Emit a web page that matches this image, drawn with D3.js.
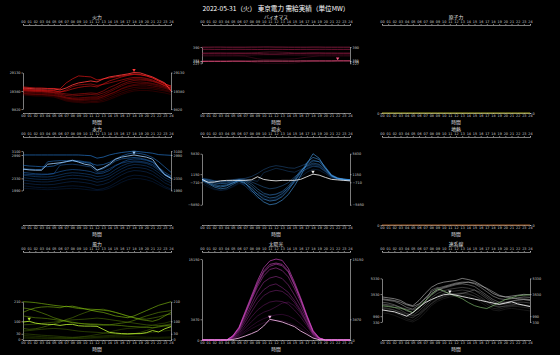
<!DOCTYPE html>
<html>
<head>
<meta charset="utf-8">
<script src="https://cdn.jsdelivr.net/npm/d3@7"></script>
<style>
body { margin: 0; background: #000; }
svg { display: block; font-family: "Noto Sans CJK JP", "Noto Sans", sans-serif; }
</style>
</head>
<body>
<svg width="560" height="355"></svg>
<script>
const title = '2022-05-31（火） 東京電力 需給実績（単位MW）';
const hourTicks = d3.range(25);

// 火力
const fireTicks = [9820, 19380, 29130];
const fireSeries = [
  [17250,16990,16720,16720,16460,16190,15130,14060,13530,13260,13000,13260,13260,13800,14860,16190,17520,18570,19370,19640,19640,19370,18840,18310,17520],
  [17780,17520,17250,17250,16990,16720,15660,14600,14060,13800,13530,13800,13800,14600,15660,16990,18310,19370,20170,20700,20700,20430,19900,19370,18570],
  [18310,18040,17780,17780,17520,17250,16190,15130,14600,14330,14330,14600,14600,15390,16720,18040,19370,20430,21220,21490,21490,21220,20700,19900,19100],
  [18040,17780,17520,17520,17250,16990,16460,15660,15130,15130,15390,15660,15660,16460,17780,19100,20700,22020,22820,23340,23340,22820,22020,21220,19900],
  [18840,18570,18310,18310,18040,17780,16720,15660,15130,14860,14860,15130,15130,16190,17520,18840,20430,21490,22280,22550,22550,22020,21490,20700,19640],
  [19370,19100,18840,18840,18570,18310,17250,16190,15660,15660,15930,16190,16190,17250,18840,20430,22020,23340,23880,24140,23880,23340,22550,21490,20170],
  [19640,19370,19100,19100,18840,18570,17780,16990,16720,16990,17250,17520,17250,18310,19640,21220,22820,24140,24930,25200,24930,24410,23340,22020,20430],
  [19900,19640,19370,19370,19100,18840,18310,17780,17520,17780,18040,18310,18040,19370,21220,22550,24140,25200,25730,25730,25470,24670,23610,22280,20960],
  [20170,19900,19640,19640,19370,19370,18840,19900,21750,22550,22820,23080,22280,22820,23610,24410,25200,26010,26540,26540,26010,25200,23880,22280,20960],
  [20430,20170,19900,19900,19640,19640,18840,19370,20430,21220,21750,22020,21490,23080,24670,25730,26800,27590,28130,27860,27330,26270,24670,23080,21750],
  [21490,21220,20960,20960,20700,20700,20430,23610,25730,27330,27060,26800,25200,25730,26270,26800,27330,27860,28390,28130,27330,26270,24670,23080,22020]
];
const fireToday = [20960,20700,20430,20430,20430,20430,19900,20960,22550,23610,24140,24670,24140,25730,26800,27330,27860,28390,29130,28920,27860,26800,25200,23610,19380];

// バイオマス
const bioTicks = [227, 246, 251, 390];
const bioSeries = [
  [252,252,252,252,252,252,251,248,240,232,228,227,227,227,228,230,238,246,251,252,252,252,252,252,252],
  [300,300,300,300,300,300,300,298,285,272,265,265,266,268,270,272,280,288,295,300,300,300,300,300,300],
  [310,310,310,310,310,310,309,309,310,312,313,313,313,312,311,310,310,310,310,310,311,311,311,311,311],
  [325,325,325,324,324,324,325,326,330,334,338,340,340,338,335,330,326,324,324,324,325,325,325,325,325],
  [330,330,331,331,330,330,330,329,327,325,322,320,320,322,324,326,329,331,332,332,331,331,330,330,330],
  [367,367,366,366,366,367,367,366,366,365,365,366,366,366,365,365,366,366,366,367,367,366,366,366,366],
  [388,388,389,389,388,388,388,388,389,389,390,390,389,389,388,388,388,388,389,389,388,388,388,388,388]
];
const bioToday = [246,247,247,247,247,248,248,248,248,249,249,249,249,249,249,249,250,250,250,250,250,250,251,251,251];

// 原子力
const nuclearTicks = [0];
const nuclearSeries = [];
const nuclearToday = [0,0,0,0,0,0,0,0,0,0,0,0,0,0,0,0,0,0,0,0,0,0,0,0,0];

// 水力
const hydroTicks = [1990, 2330, 2990, 3100];
const hydroSeries = [
  [2050,2040,2030,2020,2010,2020,2030,2040,2050,2040,2020,2000,1990,2000,2050,2130,2220,2290,2330,2320,2290,2240,2150,2060,2000],
  [2120,2100,2080,2070,2060,2070,2090,2110,2120,2110,2090,2060,2010,2040,2100,2200,2300,2380,2420,2410,2380,2320,2220,2100,2030],
  [2200,2180,2160,2150,2150,2160,2190,2220,2240,2230,2210,2180,2130,2160,2220,2330,2430,2510,2550,2540,2510,2440,2330,2200,2120],
  [2280,2260,2240,2230,2230,2250,2280,2310,2330,2320,2300,2270,2220,2250,2310,2420,2520,2600,2640,2630,2600,2530,2410,2280,2200],
  [2350,2330,2310,2300,2300,2320,2360,2400,2420,2410,2390,2360,2300,2330,2390,2500,2600,2680,2720,2710,2680,2610,2490,2350,2260],
  [2420,2400,2380,2370,2370,2390,2430,2470,2490,2480,2460,2430,2380,2400,2460,2580,2680,2750,2790,2780,2750,2680,2560,2420,2320],
  [2450,2440,2430,2430,2440,2460,2700,2720,2730,2710,2680,2650,2500,2520,2600,2700,2760,2800,2820,2810,2780,2720,2600,2440,2350],
  [2500,2480,2460,2450,2450,2470,2520,2560,2580,2570,2550,2520,2460,2480,2550,2680,2780,2850,2880,2870,2840,2780,2650,2500,2400],
  [2600,2590,2580,2580,2800,2820,2830,2830,2840,2830,2800,2780,2560,2600,2700,2820,2880,2900,2920,2900,2860,2800,2620,2450,2360],
  [2700,2680,2670,2660,2660,2680,2750,2800,2820,2800,2780,2750,2700,2720,2780,2880,2960,3020,3050,3030,2990,2920,2800,2650,2500],
  [2990,2990,2990,2990,2990,2990,2990,2990,2990,2990,2980,2970,2900,2930,2990,3030,3060,3080,3100,3080,3060,3040,3000,2990,2980]
];
const hydroToday = [2590,2570,2560,2560,2730,2750,2770,2800,2840,2790,2730,2700,2560,2630,2730,2870,2930,2960,2990,2960,2930,2870,2630,2430,2330];

// 揚水
const pumpTicks = [-5850, -710, 1150, 5830];
const pumpSeries = [
  [-1000,-1800,-2400,-2500,-2300,-1800,-1000,-1200,-2200,-3400,-4200,-4600,-4400,-3600,-2200,-700,900,2200,2900,2700,1600,400,0,-300,-400],
  [-500,-1400,-2200,-2600,-2400,-1600,-800,-1500,-3000,-4300,-4700,-4800,-4600,-3800,-2300,-400,1200,2600,3300,3000,1800,500,0,-200,-300],
  [-200,-500,-900,-1100,-1000,-700,-300,-1600,-2800,-3300,-3500,-3700,-3500,-3000,-2000,-800,500,1600,2300,2100,1300,300,0,-200,-300],
  [100,-100,-300,-400,-300,-100,100,0,-200,-500,1500,2000,2500,2200,1800,1600,2200,2900,3400,3200,2000,700,200,0,-100],
  [200,0,-400,-600,-500,-200,0,200,600,1300,2200,2800,3100,2900,2600,2500,3000,3600,4400,4000,2500,800,100,-100,-200],
  [0,-200,-500,-700,-600,-400,-100,-200,-600,-1200,-1800,-2200,-2000,-1500,-800,500,1600,2400,3000,2800,1800,600,100,0,-100],
  [0,-300,-800,-1000,-900,-500,-100,-300,-1000,-2200,-3200,-3600,-3400,-2800,-1600,200,2000,3000,3700,3400,2200,700,100,-100,-200],
  [-100,-600,-1200,-1500,-1300,-800,-200,-500,-1500,-2800,-3800,-4300,-4100,-3300,-2000,-200,1800,3200,4200,4000,2600,900,200,-100,-200],
  [-300,-1000,-1800,-2200,-2000,-1200,-500,-1000,-2000,-3500,-4500,-5000,-4800,-4000,-2500,-500,1500,3800,5000,4500,2800,1000,300,0,-200],
  [-200,-800,-1500,-1800,-1500,-900,-300,-800,-2500,-4000,-5200,-5850,-5600,-4800,-3500,-1500,800,3500,5830,4800,2500,800,200,0,-100]
];
const pumpToday = [-40,-710,-650,-380,-270,-270,-270,-270,-160,560,-50,-270,-380,-270,-270,-270,-40,560,1150,930,410,-40,-160,-270,-380];

// 地熱
const geoTicks = [0];
const geoSeries = [];
const geoToday = [0,0,0,0,0,0,0,0,0,0,0,0,0,0,0,0,0,0,0,0,0,0,0,0,0];

// 風力
const windTicks = [0, 30, 100, 210];
const windSeries = [
  [5,4,3,3,2,2,2,2,2,3,4,5,6,7,8,8,8,7,6,5,4,4,4,5,6],
  [12,10,8,7,6,5,5,4,4,5,6,8,10,12,14,15,16,15,14,12,11,10,10,11,12],
  [20,18,16,14,12,10,9,8,8,10,12,14,16,18,20,22,24,26,28,30,34,38,42,46,50],
  [30,28,25,22,20,18,15,12,10,12,15,20,26,32,40,48,55,60,62,65,70,78,85,90,100],
  [45,48,52,55,58,60,58,55,50,45,42,40,38,35,32,30,28,26,30,38,48,60,72,80,85],
  [80,82,85,88,92,95,100,105,108,110,112,115,118,115,110,105,100,95,90,85,80,78,76,74,72],
  [60,55,58,65,75,85,95,110,120,135,148,160,165,168,160,150,140,128,120,115,112,118,125,135,140],
  [130,125,120,118,115,110,105,100,95,90,85,82,80,78,80,85,90,95,105,118,130,140,150,155,160],
  [175,170,160,148,135,120,110,100,92,88,86,85,84,82,80,78,76,72,70,68,66,65,68,75,80],
  [150,165,175,180,182,180,176,185,178,172,170,168,166,162,158,150,140,130,120,110,105,100,110,130,150],
  [210,208,205,200,195,190,186,182,185,178,170,162,155,150,140,130,125,120,130,145,160,175,190,200,210]
];
const windToday = [96,100,90,85,83,82,77,82,83,75,73,73,72,55,38,34,31,30,31,31,36,48,40,58,70];

// 太陽光
const solarTicks = [0, 3870, 15150];
const solarSeries = [
  [0,0,0,0,0,200,650,1400,2100,2700,3200,3500,3700,3600,3300,2800,2200,1400,500,120,0,0,0,0,0],
  [0,0,0,0,0,250,800,1700,2600,3400,4000,4400,4700,4800,4500,3900,3000,1900,700,150,0,0,0,0,0],
  [0,0,0,0,0,300,1000,2200,3400,4500,5200,5600,6200,6900,7100,6400,5000,3100,1000,220,0,0,0,0,0],
  [0,0,0,0,0,350,1200,2700,4300,5600,6500,7100,7300,7200,6700,5600,4300,2700,900,200,0,0,0,0,0],
  [0,0,0,0,0,450,1500,3300,5200,7000,8300,9000,9300,9100,8300,7000,5300,3200,1100,240,0,0,0,0,0],
  [0,0,0,0,0,500,1700,3800,6000,8000,9400,10200,10500,9800,8900,7400,5600,3400,1200,260,0,0,0,0,0],
  [0,0,0,0,0,550,1900,4200,6600,9000,10800,11600,11900,11500,10300,8400,6300,3800,1300,300,0,0,0,0,0],
  [0,0,0,0,0,650,2100,4700,7400,10000,12000,13200,13500,13000,11800,9600,7100,4200,1500,330,0,0,0,0,0],
  [0,0,0,0,0,700,2200,4900,7700,10400,12600,13800,14200,13900,12700,10200,7500,4400,1600,350,0,0,0,0,0],
  [0,0,0,0,0,750,2300,5100,7900,10700,12900,14150,14400,14150,12900,10400,7650,4490,1680,370,0,0,0,0,0],
  [0,0,0,0,0,800,2400,5300,8200,11100,13500,14800,15150,14900,13400,10800,7900,4700,1800,400,0,0,0,0,0]
];
const solarToday = [0,0,0,0,0,100,350,750,1180,1690,2620,3870,3630,3370,2940,2500,1680,1060,370,60,0,0,0,0,0];

// 連系線
const tieTicks = [330, 990, 3530, 5330];
const tieSeries = [
  [1400,1300,1100,800,500,330,700,1400,2200,2700,3000,3200,3300,3400,3300,3000,2600,2100,1700,1600,1800,1900,1800,1700,1600],
  [1700,1600,1400,1100,700,500,1000,1700,2500,3000,3300,3500,3600,3700,3600,3300,2900,2400,1900,1800,2000,2100,2100,2000,1900],
  [1900,1800,1700,1500,1200,1000,1200,1800,2400,2900,3200,3400,3500,3600,3500,3300,3000,2600,2300,2100,2100,2200,2300,2200,2100],
  [2000,1900,1700,1400,1000,800,1300,2000,2800,3300,3600,3800,3900,4000,3900,3600,3200,2700,2200,2000,2200,2300,2400,2300,2200],
  [2300,2200,2000,1700,1300,1100,1600,2300,3100,3600,3900,4100,4200,4300,4200,4000,3500,3000,2500,2300,2400,2500,2600,2600,2500],
  [2400,2300,2200,2000,1800,1700,2000,2600,4000,4300,3800,3600,3500,3600,3800,4000,3700,3200,2700,2400,2500,2700,2900,3000,2900],
  [2600,2500,2300,2000,1600,1400,1900,2700,3400,3900,4200,4400,4600,4700,4600,4400,3900,3400,2900,2600,2600,2700,2800,2900,2800],
  [2900,2800,2700,2400,2000,1800,2300,3100,3800,4200,4400,4600,4800,4900,4900,4700,4300,3800,3300,3000,2900,3000,3100,3200,3150],
  [3000,2900,2800,2600,2300,2100,2400,3000,3600,4000,4300,4500,4700,4800,4900,4800,4500,4200,3800,3400,3200,3100,3000,2900,2850],
  [3200,3100,3000,2800,2400,2200,2800,3600,4300,4700,4900,5000,5100,5330,5200,5000,4600,4100,3600,3300,3200,3300,3400,3500,3450],
  [2180,2100,2000,1900,1700,1400,2100,2750,3450,4110,3900,3530,3300,3000,2560,2200,2000,1870,2200,2560,2900,3100,3330,3400,3450]
];
const tieToday = [1720,1600,1500,1250,990,1400,2000,2550,2900,3200,3450,3530,3400,3250,3100,2950,2800,2650,2500,2350,2500,2650,2400,2250,2100];

const panels = [
  { name: '火力', series: fireSeries, today: fireToday, ticks: fireTicks, band: [0.54, 0.955], lo: '#7a0000', hi: '#ff1a1a', hl: '#ff3a3a' },
  { name: 'バイオマス', series: bioSeries, today: bioToday, ticks: bioTicks, band: [0.25, 0.435], lo: '#6a0c30', hi: '#c8285c', hl: '#ff5a8c' },
  { name: '原子力', series: nuclearSeries, today: nuclearToday, ticks: nuclearTicks, band: [1, 1], lo: '#c8c830', hi: '#c8c830', hl: '#c8c830' },
  { name: '水力', series: hydroSeries, today: hydroToday, ticks: hydroTicks, band: [0.16, 0.607], lo: '#0c3470', hi: '#2a86e6', hl: '#9ccaf8' },
  { name: '揚水', series: pumpSeries, today: pumpToday, ticks: pumpTicks, band: [0.19, 0.77], lo: '#0c3060', hi: '#4aa2f0', hl: '#f0f0f0' },
  { name: '地熱', series: geoSeries, today: geoToday, ticks: geoTicks, band: [1, 1], lo: '#b8682a', hi: '#b8682a', hl: '#b8682a' },
  { name: '風力', series: windSeries, today: windToday, ticks: windTicks, band: [0.565, 0.99], lo: '#3a5800', hi: '#88c810', hl: '#b8f030' },
  { name: '太陽光', series: solarSeries, today: solarToday, ticks: solarTicks, band: [0.08, 1], lo: '#6a1468', hi: '#e04ed2', hl: '#f8b8ec' },
  { name: '連系線', series: tieSeries, today: tieToday, ticks: tieTicks, band: [0.3, 0.795], lo: '#484848', hi: '#d8d8d8', hl: '#f4f4f4', accent: { index: 10, color: '#8fd27c' } }
];

const svg = d3.select('svg');
const width = +svg.attr('width');
const height = +svg.attr('height');

svg.append('rect').attr('width', width).attr('height', height).attr('fill', '#000');

svg.append('text')
  .attr('x', 276).attr('y', 10.5)
  .attr('text-anchor', 'middle')
  .attr('fill', '#fff')
  .attr('font-size', 6.6)
  .text(title);

const panelW = 148;
const panelH = 88;
const colX = [23, 202, 382];
const rowY = [25, 137, 252];
const axisColor = '#d0d0d0';

const styleAxis = sel => {
  sel.attr('font-size', 3.4).attr('font-family', '"DejaVu Sans", sans-serif');
  sel.selectAll('path, line').attr('stroke', axisColor).attr('stroke-width', 0.6);
  sel.selectAll('text').attr('fill', axisColor);
};

panels.forEach((p, i) => {
  const g = svg.append('g')
    .attr('transform', `translate(${colX[i % 3]}, ${rowY[Math.floor(i / 3)]})`);

  const xScale = d3.scaleLinear().domain([0, 24]).range([0, panelW]);
  const yScale = d3.scaleLinear()
    .domain(d3.extent(p.ticks))
    .range([panelH * p.band[1], panelH * p.band[0]]);

  // 上下の時間軸
  g.append('g')
    .call(d3.axisTop(xScale).tickValues(hourTicks).tickFormat(d3.format('02d')).tickSize(1).tickPadding(0.8))
    .call(styleAxis);
  g.append('g')
    .attr('transform', `translate(0, ${panelH})`)
    .call(d3.axisBottom(xScale).tickValues(hourTicks).tickFormat(d3.format('02d')).tickSize(1).tickPadding(0.6))
    .call(styleAxis);

  // 左右の値軸
  g.append('g')
    .call(d3.axisLeft(yScale).tickValues(p.ticks).tickFormat(d3.format('d')).tickSize(1.5).tickSizeOuter(0).tickPadding(1))
    .call(styleAxis);
  g.append('g')
    .attr('transform', `translate(${panelW}, 0)`)
    .call(d3.axisRight(yScale).tickValues(p.ticks).tickFormat(d3.format('d')).tickSize(1.5).tickSizeOuter(0).tickPadding(1))
    .call(styleAxis);

  g.append('text')
    .attr('x', panelW / 2).attr('y', -6.5)
    .attr('text-anchor', 'middle')
    .attr('fill', '#e0e0e0')
    .attr('font-size', 4.8)
    .text(p.name);

  g.append('text')
    .attr('x', panelW / 2).attr('y', panelH + 10.5)
    .attr('text-anchor', 'middle')
    .attr('fill', '#e0e0e0')
    .attr('font-size', 4.8)
    .text('時間');

  const line = d3.line()
    .x((d, k) => xScale(k))
    .y(d => yScale(d));

  const n = p.series.length;
  const colorOf = d3.interpolateRgb(p.lo, p.hi);

  g.selectAll('path.day').data(p.series)
    .enter().append('path')
      .attr('class', 'day')
      .attr('d', line)
      .attr('fill', 'none')
      .attr('stroke', (d, k) => p.accent && p.accent.index === k ? p.accent.color : colorOf(n > 1 ? k / (n - 1) : 1))
      .attr('stroke-opacity', (d, k) => 0.55 + 0.45 * (n > 1 ? k / (n - 1) : 1))
      .attr('stroke-width', 0.6);

  g.append('path')
    .datum(p.today)
    .attr('d', line)
    .attr('fill', 'none')
    .attr('stroke', p.hl)
    .attr('stroke-width', 0.85);

  const ext = d3.extent(p.today);
  if (ext[0] !== ext[1]) {
    const iMax = d3.maxIndex(p.today);
    g.append('path')
      .attr('d', d3.symbol().type(d3.symbolTriangle).size(5))
      .attr('transform', `translate(${xScale(iMax)}, ${yScale(p.today[iMax]) - 2.5}) rotate(180)`)
      .attr('fill', p.hl);
  }
});
</script>
</body>
</html>
